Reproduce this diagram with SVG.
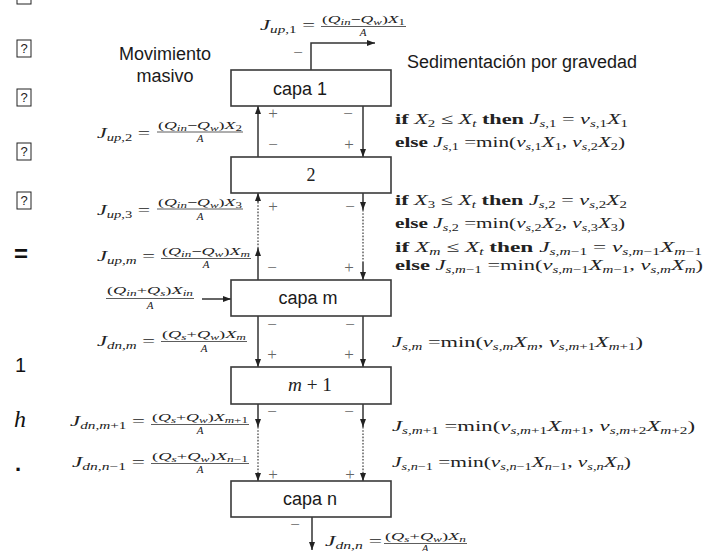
<svg xmlns="http://www.w3.org/2000/svg" width="704" height="551" viewBox="0 0 704 551">
<defs>
<style>
.bx{fill:#fff;stroke:#3a3a3a;stroke-width:1.6}
.ln{fill:none;stroke:#333;stroke-width:1.5}
.dt{fill:none;stroke:#555;stroke-width:1.4;stroke-dasharray:1.6 1.6}
.bar{stroke:#333;stroke-width:0.8}
.sans{font-family:"Liberation Sans",Arial,sans-serif;font-size:18px;fill:#1a1a1a}
.mt{font-family:"Liberation Serif","Times New Roman",serif;font-size:15px;fill:#222}
.mn{font-family:"Liberation Serif","Times New Roman",serif;font-size:11px;fill:#222}
.mb{font-family:"Liberation Serif","Times New Roman",serif;font-size:18px;fill:#222;text-anchor:middle}
.sg{font-family:"Liberation Serif","Times New Roman",serif;font-size:17px;fill:#666;text-anchor:middle}
.i{font-style:italic}
.bd{font-weight:bold}
.u{font-size:10px;baseline-shift:-3px}
.v{font-size:8px;baseline-shift:-2px}
.tofu{fill:none;stroke:#222;stroke-width:1}
.tq{font-family:"Liberation Sans",Arial,sans-serif;font-size:13px;fill:#222;text-anchor:middle}
</style>
<marker id="ah" viewBox="0 0 8 6" refX="8" refY="3" markerWidth="8" markerHeight="6" markerUnits="userSpaceOnUse" orient="auto">
<path d="M0,0 L8,3 L0,6 z" fill="#222"/>
</marker>
</defs>
<rect width="704" height="551" fill="#fff"/>

<g id="artifacts">
<rect class="tofu" x="17" y="-13" width="14" height="17"/>
<rect class="tofu" x="17" y="40" width="14" height="17"/><text class="tq" x="24" y="53">?</text>
<rect class="tofu" x="17" y="89" width="14" height="17"/><text class="tq" x="24" y="102">?</text>
<rect class="tofu" x="17" y="143" width="14" height="17"/><text class="tq" x="24" y="156">?</text>
<rect class="tofu" x="17" y="192" width="14" height="17"/><text class="tq" x="24" y="205">?</text>
<text x="14" y="262" font-family="Liberation Sans,Arial,sans-serif" font-size="24" font-weight="bold" fill="#111">=</text>
<text x="15" y="372" font-family="Liberation Sans,Arial,sans-serif" font-size="20" fill="#111">1</text>
<text x="14" y="427" font-family="Liberation Serif,Times New Roman,serif" font-size="24" font-style="italic" fill="#111">h</text>
<text x="15" y="471" font-family="Liberation Sans,Arial,sans-serif" font-size="22" font-weight="bold" fill="#111">.</text>
</g>

<g id="connectors">
<polyline class="ln" points="311,70 311,43 375,43" marker-end="url(#ah)"/>
<line class="ln" x1="258" y1="157" x2="258" y2="106" marker-end="url(#ah)"/>
<line class="ln" x1="363" y1="106" x2="363" y2="157" marker-end="url(#ah)"/>
<line class="ln" x1="258" y1="202" x2="258" y2="193" marker-end="url(#ah)"/>
<line class="dt" x1="258" y1="202" x2="258" y2="248"/>
<line class="ln" x1="258" y1="280" x2="258" y2="248" marker-end="url(#ah)"/>
<line class="ln" x1="363" y1="193" x2="363" y2="210" marker-end="url(#ah)"/>
<line class="dt" x1="363" y1="210" x2="363" y2="262"/>
<line class="ln" x1="363" y1="262" x2="363" y2="280" marker-end="url(#ah)"/>
<line class="ln" x1="258" y1="316" x2="258" y2="367" marker-end="url(#ah)"/>
<line class="ln" x1="363" y1="316" x2="363" y2="367" marker-end="url(#ah)"/>
<line class="ln" x1="258" y1="404" x2="258" y2="427" marker-end="url(#ah)"/>
<line class="dt" x1="258" y1="427" x2="258" y2="473"/>
<line class="ln" x1="258" y1="473" x2="258" y2="481" marker-end="url(#ah)"/>
<line class="ln" x1="363" y1="404" x2="363" y2="427" marker-end="url(#ah)"/>
<line class="dt" x1="363" y1="427" x2="363" y2="473"/>
<line class="ln" x1="363" y1="473" x2="363" y2="481" marker-end="url(#ah)"/>
<line class="ln" x1="312" y1="517" x2="312" y2="550" marker-end="url(#ah)"/>
<line class="ln" x1="202" y1="299" x2="231" y2="299" marker-end="url(#ah)"/>
</g>

<g id="capa1"><rect class="bx" x="231" y="70" width="160" height="36"/><text class="sans" x="300" y="95" text-anchor="middle">capa 1</text></g>
<g id="capa2"><rect class="bx" x="231" y="157" width="160" height="36"/><text class="mb" x="311" y="181">2</text></g>
<g id="capam"><rect class="bx" x="231" y="280" width="160" height="36"/><text class="sans" x="308" y="304" text-anchor="middle">capa m</text></g>
<g id="capam1"><rect class="bx" x="231" y="367" width="160" height="37"/><text class="mb" x="310" y="391" textLength="44" lengthAdjust="spacingAndGlyphs"><tspan class="i">m</tspan> + 1</text></g>
<g id="capan"><rect class="bx" x="231" y="481" width="160" height="36"/><text class="sans" x="310" y="505" text-anchor="middle">capa n</text></g>

<g id="titles">
<text class="sans" x="165" y="60" text-anchor="middle">Movimiento</text>
<text class="sans" x="165" y="82" text-anchor="middle">masivo</text>
<text class="sans" x="407" y="68" textLength="230" lengthAdjust="spacingAndGlyphs">Sedimentación por gravedad</text>
</g>

<g id="signs">
<text class="sg" x="298" y="58">−</text>
<text class="sg" x="273" y="119">+</text><text class="sg" x="348" y="119">−</text>
<text class="sg" x="273" y="150">−</text><text class="sg" x="349" y="150">+</text>
<text class="sg" x="273" y="212">+</text><text class="sg" x="350" y="212">−</text>
<text class="sg" x="272" y="273">−</text><text class="sg" x="349" y="273">+</text>
<text class="sg" x="272" y="330">−</text><text class="sg" x="350" y="330">−</text>
<text class="sg" x="272" y="360">+</text><text class="sg" x="349" y="360">+</text>
<text class="sg" x="272" y="417">−</text><text class="sg" x="349" y="417">−</text>
<text class="sg" x="273" y="480">+</text><text class="sg" x="350" y="480">+</text>
<text class="sg" x="295" y="530">−</text>
</g>

<g id="flux-left">
<text class="mt" x="260" y="30" textLength="55" lengthAdjust="spacingAndGlyphs"><tspan class="i">J</tspan><tspan class="u i">up</tspan><tspan class="u">,1</tspan> =</text>
<text class="mn" x="322" y="23" textLength="83" lengthAdjust="spacingAndGlyphs">(<tspan class="i">Q</tspan><tspan class="v i">in</tspan>−<tspan class="i">Q</tspan><tspan class="v i">w</tspan>)<tspan class="i">X</tspan><tspan class="v">1</tspan></text>
<line class="bar" x1="321" y1="26.5" x2="406" y2="26.5"/>
<text class="mn i" x="363" y="36" text-anchor="middle">A</text>

<text class="mt" x="97" y="138" textLength="53" lengthAdjust="spacingAndGlyphs"><tspan class="i">J</tspan><tspan class="u i">up</tspan><tspan class="u">,2</tspan> =</text>
<text class="mn" x="158" y="129" textLength="84" lengthAdjust="spacingAndGlyphs">(<tspan class="i">Q</tspan><tspan class="v i">in</tspan>−<tspan class="i">Q</tspan><tspan class="v i">w</tspan>)<tspan class="i">X</tspan><tspan class="v">2</tspan></text>
<line class="bar" x1="157" y1="132" x2="243" y2="132"/>
<text class="mn i" x="200" y="142" text-anchor="middle">A</text>

<text class="mt" x="97" y="215" textLength="53" lengthAdjust="spacingAndGlyphs"><tspan class="i">J</tspan><tspan class="u i">up</tspan><tspan class="u">,3</tspan> =</text>
<text class="mn" x="158" y="206" textLength="84" lengthAdjust="spacingAndGlyphs">(<tspan class="i">Q</tspan><tspan class="v i">in</tspan>−<tspan class="i">Q</tspan><tspan class="v i">w</tspan>)<tspan class="i">X</tspan><tspan class="v">3</tspan></text>
<line class="bar" x1="157" y1="209" x2="243" y2="209"/>
<text class="mn i" x="200" y="220" text-anchor="middle">A</text>

<text class="mt" x="97" y="261" textLength="58" lengthAdjust="spacingAndGlyphs"><tspan class="i">J</tspan><tspan class="u i">up,m</tspan> =</text>
<text class="mn" x="162" y="255" textLength="88" lengthAdjust="spacingAndGlyphs">(<tspan class="i">Q</tspan><tspan class="v i">in</tspan>−<tspan class="i">Q</tspan><tspan class="v i">w</tspan>)<tspan class="i">X</tspan><tspan class="v i">m</tspan></text>
<line class="bar" x1="161" y1="258.5" x2="251" y2="258.5"/>
<text class="mn i" x="206" y="268" text-anchor="middle">A</text>

<text class="mn" x="107" y="294" textLength="86" lengthAdjust="spacingAndGlyphs">(<tspan class="i">Q</tspan><tspan class="v i">in</tspan>+<tspan class="i">Q</tspan><tspan class="v i">s</tspan>)<tspan class="i">X</tspan><tspan class="v i">in</tspan></text>
<line class="bar" x1="106" y1="298.5" x2="194" y2="298.5"/>
<text class="mn i" x="150" y="309" text-anchor="middle">A</text>

<text class="mt" x="97" y="346" textLength="58" lengthAdjust="spacingAndGlyphs"><tspan class="i">J</tspan><tspan class="u i">dn,m</tspan> =</text>
<text class="mn" x="162" y="338" textLength="84" lengthAdjust="spacingAndGlyphs">(<tspan class="i">Q</tspan><tspan class="v i">s</tspan>+<tspan class="i">Q</tspan><tspan class="v i">w</tspan>)<tspan class="i">X</tspan><tspan class="v i">m</tspan></text>
<line class="bar" x1="161" y1="341.5" x2="247" y2="341.5"/>
<text class="mn i" x="204" y="352" text-anchor="middle">A</text>

<text class="mt" x="70" y="426" textLength="75" lengthAdjust="spacingAndGlyphs"><tspan class="i">J</tspan><tspan class="u"><tspan class="i">dn,m</tspan>+1</tspan> =</text>
<text class="mn" x="152" y="421" textLength="96" lengthAdjust="spacingAndGlyphs">(<tspan class="i">Q</tspan><tspan class="v i">s</tspan>+<tspan class="i">Q</tspan><tspan class="v i">w</tspan>)<tspan class="i">X</tspan><tspan class="v"><tspan class="i">m</tspan>+1</tspan></text>
<line class="bar" x1="151" y1="424.5" x2="249" y2="424.5"/>
<text class="mn i" x="200" y="434" text-anchor="middle">A</text>

<text class="mt" x="72" y="467" textLength="73" lengthAdjust="spacingAndGlyphs"><tspan class="i">J</tspan><tspan class="u"><tspan class="i">dn,n</tspan>−1</tspan> =</text>
<text class="mn" x="152" y="460" textLength="96" lengthAdjust="spacingAndGlyphs">(<tspan class="i">Q</tspan><tspan class="v i">s</tspan>+<tspan class="i">Q</tspan><tspan class="v i">w</tspan>)<tspan class="i">X</tspan><tspan class="v"><tspan class="i">n</tspan>−1</tspan></text>
<line class="bar" x1="151" y1="463.5" x2="249" y2="463.5"/>
<text class="mn i" x="200" y="473" text-anchor="middle">A</text>

<text class="mt" x="325" y="546" textLength="57" lengthAdjust="spacingAndGlyphs"><tspan class="i">J</tspan><tspan class="u i">dn,n</tspan> =</text>
<text class="mn" x="385" y="540" textLength="81" lengthAdjust="spacingAndGlyphs">(<tspan class="i">Q</tspan><tspan class="v i">s</tspan>+<tspan class="i">Q</tspan><tspan class="v i">w</tspan>)<tspan class="i">X</tspan><tspan class="v i">n</tspan></text>
<line class="bar" x1="384" y1="543.5" x2="467" y2="543.5"/>
<text class="mn i" x="425" y="552" text-anchor="middle">A</text>
</g>

<g id="flux-right">
<text class="mt" x="395" y="124" textLength="233" lengthAdjust="spacingAndGlyphs"><tspan class="bd">if</tspan> <tspan class="i">X</tspan><tspan class="u">2</tspan> ≤ <tspan class="i">X</tspan><tspan class="u i">t</tspan> <tspan class="bd">then</tspan> <tspan class="i">J</tspan><tspan class="u"><tspan class="i">s</tspan>,1</tspan> = <tspan class="i">v</tspan><tspan class="u"><tspan class="i">s</tspan>,1</tspan><tspan class="i">X</tspan><tspan class="u">1</tspan></text>
<text class="mt" x="395" y="147" textLength="230" lengthAdjust="spacingAndGlyphs"><tspan class="bd">else</tspan> <tspan class="i">J</tspan><tspan class="u"><tspan class="i">s</tspan>,1</tspan> =min(<tspan class="i">v</tspan><tspan class="u"><tspan class="i">s</tspan>,1</tspan><tspan class="i">X</tspan><tspan class="u">1</tspan>, <tspan class="i">v</tspan><tspan class="u"><tspan class="i">s</tspan>,2</tspan><tspan class="i">X</tspan><tspan class="u">2</tspan>)</text>
<text class="mt" x="395" y="205" textLength="232" lengthAdjust="spacingAndGlyphs"><tspan class="bd">if</tspan> <tspan class="i">X</tspan><tspan class="u">3</tspan> ≤ <tspan class="i">X</tspan><tspan class="u i">t</tspan> <tspan class="bd">then</tspan> <tspan class="i">J</tspan><tspan class="u"><tspan class="i">s</tspan>,2</tspan> = <tspan class="i">v</tspan><tspan class="u"><tspan class="i">s</tspan>,2</tspan><tspan class="i">X</tspan><tspan class="u">2</tspan></text>
<text class="mt" x="395" y="228" textLength="230" lengthAdjust="spacingAndGlyphs"><tspan class="bd">else</tspan> <tspan class="i">J</tspan><tspan class="u"><tspan class="i">s</tspan>,2</tspan> =min(<tspan class="i">v</tspan><tspan class="u"><tspan class="i">s</tspan>,2</tspan><tspan class="i">X</tspan><tspan class="u">2</tspan>, <tspan class="i">v</tspan><tspan class="u"><tspan class="i">s</tspan>,3</tspan><tspan class="i">X</tspan><tspan class="u">3</tspan>)</text>
<text class="mt" x="395" y="252" textLength="307" lengthAdjust="spacingAndGlyphs"><tspan class="bd">if</tspan> <tspan class="i">X</tspan><tspan class="u i">m</tspan> ≤ <tspan class="i">X</tspan><tspan class="u i">t</tspan> <tspan class="bd">then</tspan> <tspan class="i">J</tspan><tspan class="u"><tspan class="i">s,m</tspan>−1</tspan> = <tspan class="i">v</tspan><tspan class="u"><tspan class="i">s,m</tspan>−1</tspan><tspan class="i">X</tspan><tspan class="u"><tspan class="i">m</tspan>−1</tspan></text>
<text class="mt" x="395" y="270" textLength="308" lengthAdjust="spacingAndGlyphs"><tspan class="bd">else</tspan> <tspan class="i">J</tspan><tspan class="u"><tspan class="i">s,m</tspan>−1</tspan> =min(<tspan class="i">v</tspan><tspan class="u"><tspan class="i">s,m</tspan>−1</tspan><tspan class="i">X</tspan><tspan class="u"><tspan class="i">m</tspan>−1</tspan>, <tspan class="i">v</tspan><tspan class="u i">s,m</tspan><tspan class="i">X</tspan><tspan class="u i">m</tspan>)</text>
<text class="mt" x="392" y="347" textLength="251" lengthAdjust="spacingAndGlyphs"><tspan class="i">J</tspan><tspan class="u i">s,m</tspan> =min(<tspan class="i">v</tspan><tspan class="u i">s,m</tspan><tspan class="i">X</tspan><tspan class="u i">m</tspan>, <tspan class="i">v</tspan><tspan class="u"><tspan class="i">s,m</tspan>+1</tspan><tspan class="i">X</tspan><tspan class="u"><tspan class="i">m</tspan>+1</tspan>)</text>
<text class="mt" x="392" y="431" textLength="303" lengthAdjust="spacingAndGlyphs"><tspan class="i">J</tspan><tspan class="u"><tspan class="i">s,m</tspan>+1</tspan> =min(<tspan class="i">v</tspan><tspan class="u"><tspan class="i">s,m</tspan>+1</tspan><tspan class="i">X</tspan><tspan class="u"><tspan class="i">m</tspan>+1</tspan>, <tspan class="i">v</tspan><tspan class="u"><tspan class="i">s,m</tspan>+2</tspan><tspan class="i">X</tspan><tspan class="u"><tspan class="i">m</tspan>+2</tspan>)</text>
<text class="mt" x="392" y="467" textLength="239" lengthAdjust="spacingAndGlyphs"><tspan class="i">J</tspan><tspan class="u"><tspan class="i">s,n</tspan>−1</tspan> =min(<tspan class="i">v</tspan><tspan class="u"><tspan class="i">s,n</tspan>−1</tspan><tspan class="i">X</tspan><tspan class="u"><tspan class="i">n</tspan>−1</tspan>, <tspan class="i">v</tspan><tspan class="u i">s,n</tspan><tspan class="i">X</tspan><tspan class="u i">n</tspan>)</text>
</g>
</svg>
